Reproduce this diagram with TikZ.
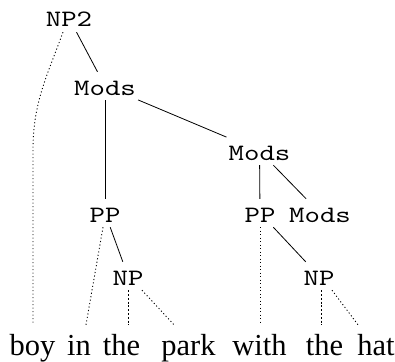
\documentclass[tikz,border=0pt]{standalone}
\usepackage{fontspec}
\usetikzlibrary{calc}
\newfontfamily\wordfont{Liberation Serif}
\newfontfamily\labfont{lmmono10-regular}[Extension=.otf, FakeStretch=1.25]
\tikzset{
  lab/.style={anchor=base, font=\labfont\fontsize{23.5}{27}\selectfont,
    text height=20pt, text depth=2pt, inner ysep=3pt, inner xsep=2pt},
  word/.style={anchor=base, font=\wordfont\fontsize{30.5}{36}\selectfont,
    text height=22pt, text depth=7pt, inner ysep=8pt, inner xsep=0pt},
  edge/.style={line width=0.8pt},
  dots/.style={line width=0.9pt, dash pattern=on 1.1pt off 2.4pt},
  dashes/.style={line width=0.9pt, dash pattern=on 2pt off 1.8pt},
}
\begin{document}
\begin{tikzpicture}[x=1pt,y=1pt]
\useasboundingbox (0,0) rectangle (395,-361);
% labels
\node[lab] (np2)   at (69,-27)    {NP2};
\node[lab] (mods1) at (105,-95)   {Mods};
\node[lab] (mods2) at (259.5,-160) {Mods};
\node[lab] (ppl)   at (105,-222)  {PP};
\node[lab] (ppr)   at (260,-222)  {PP};
\node[lab] (modsr) at (320,-222)  {Mods};
\node[lab] (npl)   at (128,-285)  {NP};
\node[lab] (npr)   at (319,-285)  {NP};
% words
\node[word] (boy)  at (32.5,-355)  {boy};
\node[word] (in)   at (79,-355)    {in};
\node[word] (the1) at (121.5,-355) {the};
\node[word] (park) at (188.5,-355) {park};
\node[word] (with) at (259.5,-355) {with};
\node[word] (the2) at (324.5,-355) {the};
\node[word] (hat)  at (376,-355)   {hat};
\coordinate (bend) at (33,-150);
% solid edges
\draw[edge] (np2) -- (mods1);
\draw[edge] (mods1) -- (ppl);
\draw[edge] (mods1) -- (mods2);
\draw[edge] (mods2) -- (ppr);
\draw[edge] (mods2) -- (modsr);
\draw[edge] (ppl) -- (npl);
\draw[edge] (ppr) -- (npr);
% dotted edges to words
\draw[dots] (np2.-113) to[out=-110,in=90] (bend) -- ($(boy.north)+(0.5,0)$);
\draw[dots] ($(ppl.south)+(-2,0)$) -- ($(in.north)+(7,0)$);
\draw[dashes] (npl.south) -- ($(the1.north)+(6.5,0)$);
\draw[dots] ($(npl.south)+(14,0)$) -- ($(park.north)+(-14.5,0)$);
\draw[dots] (ppr.south) -- ($(with.north)+(0.5,0)$);
\draw[dashes] ($(npr.south)+(2,0)$) -- ($(the2.north)+(-3.5,0)$);
\draw[dots] ($(npr.south)+(13,0)$) -- ($(hat.north)+(-18,0)$);
\end{tikzpicture}
\end{document}
